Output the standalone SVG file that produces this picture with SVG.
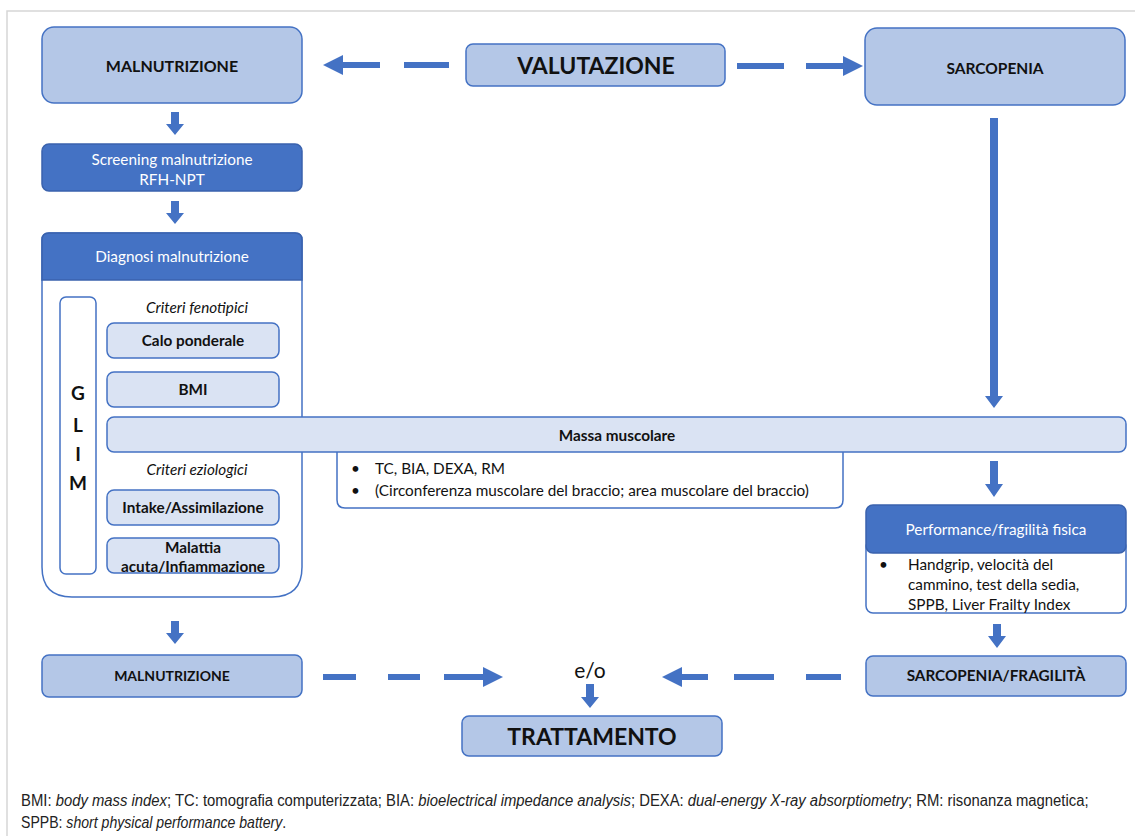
<svg xmlns="http://www.w3.org/2000/svg" width="1135" height="836" viewBox="0 0 1135 836">
<defs>
<style>
.lb{fill:#B4C7E7;stroke:#4472C4;stroke-width:1.5}
.db{fill:#4472C4;stroke:#3A62AD;stroke-width:1.5}
.ib{fill:#DAE3F3;stroke:#4472C4;stroke-width:1.5}
.wb{fill:#FFFFFF;stroke:#4472C4;stroke-width:1.5}
.ar{fill:#4472C4}
.dash{stroke:#4472C4;stroke-width:6;fill:none}
text{font-family:Lato,"Open Sans",sans-serif;fill:#111}
.b{font-weight:bold}
.w{fill:#FFFFFF}
.it{font-style:italic}
.t{font-size:15.3px}
.cap{font-family:"Liberation Sans",Arial,sans-serif;font-size:16px;fill:#222}
</style>
</defs>
<rect width="1135" height="836" fill="#FFFFFF"/>
<path d="M7 836 V11 H1135" fill="none" stroke="#D6D6D6" stroke-width="1.5"/>

<g id="connectors">
  <line class="dash" x1="449" y1="65" x2="404" y2="65"/>
  <line class="dash" x1="380" y1="65" x2="340" y2="65"/>
  <polygon class="ar" points="343,55 323,65 343,75"/>
  <line class="dash" x1="737" y1="66" x2="784" y2="66"/>
  <line class="dash" x1="806" y1="66" x2="846" y2="66"/>
  <polygon class="ar" points="843,56 863,66 843,76"/>
  <polygon class="ar" points="171,112 179,112 179,124 184,124 175,135 166,124 171,124"/>
  <polygon class="ar" points="171,201 179,201 179,213 184,213 175,224 166,213 171,213"/>
  <polygon class="ar" points="171,621 179,621 179,633 184,633 175,644 166,633 171,633"/>
  <polygon class="ar" points="990,118 998,118 998,396 1003,396 994,408 985,396 990,396"/>
  <polygon class="ar" points="990,461 998,461 998,484 1003,484 994,497 985,484 990,484"/>
  <polygon class="ar" points="993,624 1001,624 1001,636 1006,636 997,648 988,636 993,636"/>
  <polygon class="ar" points="586,684 594,684 594,697 599,697 590,708 581,697 586,697"/>
  <line class="dash" x1="323" y1="677" x2="356" y2="677"/>
  <line class="dash" x1="388" y1="677" x2="420" y2="677"/>
  <line class="dash" x1="444" y1="677" x2="485" y2="677"/>
  <polygon class="ar" points="483,667 503,677 483,687"/>
  <line class="dash" x1="841" y1="677" x2="806" y2="677"/>
  <line class="dash" x1="774" y1="677" x2="734" y2="677"/>
  <line class="dash" x1="708" y1="677" x2="680" y2="677"/>
  <polygon class="ar" points="682,667 662,677 682,687"/>
</g>

<g id="malnutrizione-top">
  <rect class="lb" x="42" y="27" width="260" height="76" rx="12"/>
  <text class="b" x="172" y="72" font-size="16" text-anchor="middle">MALNUTRIZIONE</text>
</g>
<g id="valutazione">
  <rect class="lb" x="466" y="44" width="259" height="42" rx="7"/>
  <text class="b" x="596" y="74" font-size="23" text-anchor="middle">VALUTAZIONE</text>
</g>
<g id="sarcopenia">
  <rect class="lb" x="865" y="28" width="260" height="77" rx="12"/>
  <text class="b" x="995" y="74" font-size="15.5" text-anchor="middle">SARCOPENIA</text>
</g>
<g id="screening">
  <rect class="db" x="42" y="144" width="260" height="47" rx="7"/>
  <text class="w t" x="172" y="165" text-anchor="middle">Screening malnutrizione</text>
  <text class="w t" x="172" y="185" text-anchor="middle">RFH-NPT</text>
</g>
<g id="diagnosi">
  <path class="wb" d="M42 240 Q42 233 49 233 H295 Q302 233 302 240 V567 Q302 597 272 597 H72 Q42 597 42 567 Z"/>
  <path class="db" d="M42 240 Q42 233 49 233 H295 Q302 233 302 240 V280 H42 Z"/>
  <text class="w t" x="172" y="262" text-anchor="middle">Diagnosi malnutrizione</text>
</g>
<g id="glim">
  <rect class="wb" x="60" y="297" width="36" height="277" rx="6"/>
  <text class="b" x="78" y="400" font-size="19" text-anchor="middle">G</text>
  <text class="b" x="78" y="432" font-size="19" text-anchor="middle">L</text>
  <text class="b" x="78" y="461" font-size="19" text-anchor="middle">I</text>
  <text class="b" x="78" y="490" font-size="19" text-anchor="middle">M</text>
</g>
<g id="criteri-fenotipici">
  <text class="it t" x="197" y="313" text-anchor="middle">Criteri fenotipici</text>
</g>
<g id="calo-ponderale">
  <rect class="ib" x="107" y="323" width="172" height="35" rx="7"/>
  <text class="b t" x="193" y="346" text-anchor="middle">Calo ponderale</text>
</g>
<g id="bmi">
  <rect class="ib" x="107" y="372" width="172" height="35" rx="7"/>
  <text class="b t" x="193" y="395" text-anchor="middle">BMI</text>
</g>
<g id="massa-muscolare">
  <path class="wb" d="M337 452 V500 Q337 508 345 508 H835 Q843 508 843 500 V452"/>
  <text class="t" x="351" y="474">•</text>
  <text class="t" x="375" y="474">TC, BIA, DEXA, RM</text>
  <text class="t" x="351" y="496">•</text>
  <text class="t" x="375" y="496">(Circonferenza muscolare del braccio; area muscolare del braccio)</text>
  <rect class="ib" x="107" y="417" width="1019" height="35" rx="7"/>
  <text class="b t" x="617" y="441" text-anchor="middle">Massa muscolare</text>
</g>
<g id="criteri-eziologici">
  <text class="it t" x="197" y="475" text-anchor="middle">Criteri eziologici</text>
</g>
<g id="intake">
  <rect class="ib" x="107" y="490" width="172" height="35" rx="7"/>
  <text class="b t" x="193" y="513" text-anchor="middle">Intake/Assimilazione</text>
</g>
<g id="malattia">
  <rect class="ib" x="107" y="538" width="172" height="35" rx="7"/>
  <text class="b t" x="193" y="553" text-anchor="middle">Malattia</text>
  <text class="b t" x="193" y="572" text-anchor="middle">acuta/Infiammazione</text>
</g>
<g id="performance">
  <rect class="wb" x="866" y="540" width="260" height="73" rx="7"/>
  <rect class="db" x="866" y="505" width="260" height="48" rx="7"/>
  <text class="w t" x="996" y="535" text-anchor="middle">Performance/fragilità fisica</text>
  <text class="t" x="879" y="570">•</text>
  <text class="t" x="908" y="570">Handgrip, velocità del</text>
  <text class="t" x="908" y="590">cammino, test della sedia,</text>
  <text class="t" x="908" y="610">SPPB, Liver Frailty Index</text>
</g>
<g id="sarcopenia-fragilita">
  <rect class="lb" x="866" y="656" width="260" height="40" rx="7"/>
  <text class="b t" x="996" y="681" text-anchor="middle">SARCOPENIA/FRAGILITÀ</text>
</g>
<g id="malnutrizione-bottom">
  <rect class="lb" x="42" y="655" width="260" height="42" rx="7"/>
  <text class="b" x="172" y="681" font-size="14" text-anchor="middle">MALNUTRIZIONE</text>
</g>
<g id="eo">
  <text x="590" y="678" font-size="21" text-anchor="middle">e/o</text>
</g>
<g id="trattamento">
  <rect class="lb" x="462" y="716" width="260" height="40" rx="7"/>
  <text class="b" x="592" y="745" font-size="23" text-anchor="middle">TRATTAMENTO</text>
</g>
<g id="caption">
  <text class="cap" x="0" y="806" transform="translate(21,0) scale(0.928,1)">BMI: <tspan font-style="italic">body mass index</tspan>; TC: tomografia computerizzata; BIA: <tspan font-style="italic">bioelectrical impedance analysis</tspan>; DEXA: <tspan font-style="italic">dual-energy X-ray absorptiometry</tspan>; RM: risonanza magnetica;</text>
  <text class="cap" x="0" y="828" transform="translate(21,0) scale(0.88,1)">SPPB: <tspan font-style="italic">short physical performance battery</tspan>.</text>
</g>
</svg>
